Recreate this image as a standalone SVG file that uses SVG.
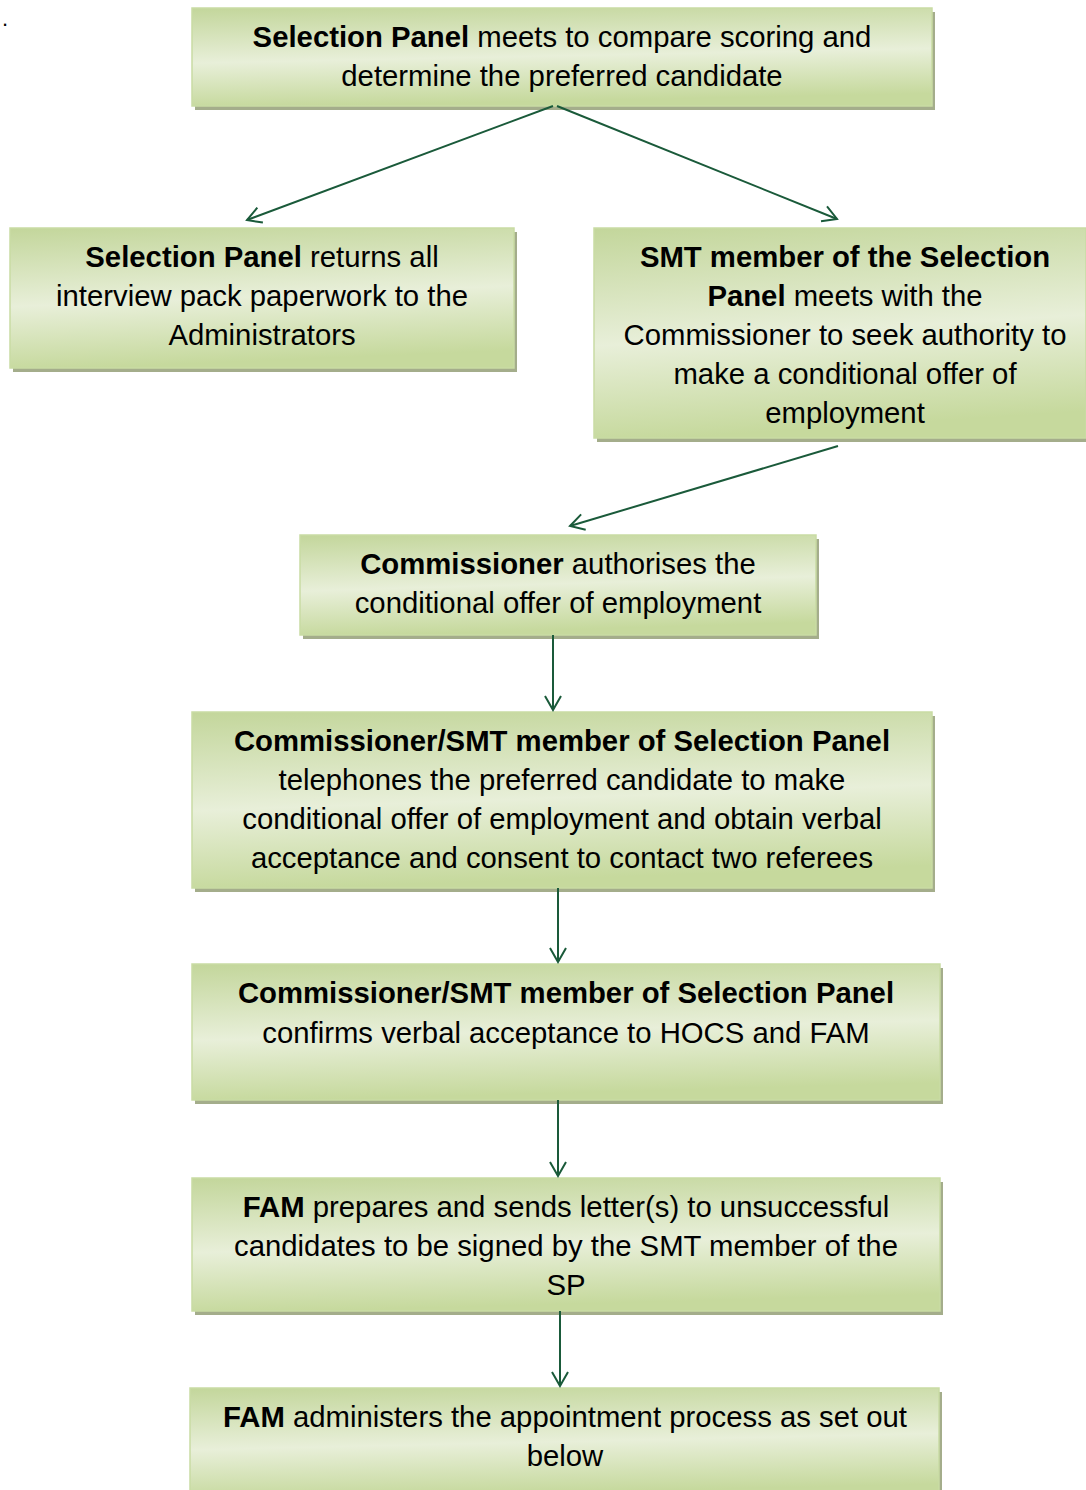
<svg xmlns="http://www.w3.org/2000/svg" width="1086" height="1490" viewBox="0 0 1086 1490">
<defs>
<linearGradient id="g" x1="0" y1="0" x2="0.15" y2="1">
<stop offset="0" stop-color="#c3d69b"/>
<stop offset="0.55" stop-color="#e8efd9"/>
<stop offset="1" stop-color="#c6d99d"/>
</linearGradient>
<marker id="ah" markerWidth="20" markerHeight="20" refX="18" refY="10" orient="auto" markerUnits="userSpaceOnUse">
<path d="M4,2 L18,10 L4,18" fill="none" stroke="#1a5a3a" stroke-width="2"/>
</marker>
<style>
.sh{fill:#a4ad8b}
.bx{fill:url(#g);stroke:#c9dba4;stroke-width:1.5}
.t{font-family:"Liberation Sans",Arial,sans-serif;font-size:29.3px;fill:#000;text-anchor:middle}
.b{font-weight:bold}
.c{stroke:#1a5a3a;stroke-width:2;fill:none;marker-end:url(#ah)}
</style>
</defs>
<rect width="1086" height="1490" fill="#fff"/>
<text x="2" y="26" class="t" style="text-anchor:start;font-size:22px">.</text>

<g id="n1">
<rect class="sh" x="195" y="12" width="740" height="98"/>
<rect class="bx" x="192" y="8" width="740" height="98"/>
<text class="t" x="562" y="47"><tspan class="b">Selection Panel</tspan> meets to compare scoring and</text>
<text class="t" x="562" y="86">determine the preferred candidate</text>
</g>

<g id="n2">
<rect class="sh" x="13" y="232" width="504" height="140"/>
<rect class="bx" x="10" y="228" width="504" height="140"/>
<text class="t" x="262" y="267"><tspan class="b">Selection Panel</tspan> returns all</text>
<text class="t" x="262" y="306">interview pack paperwork to the</text>
<text class="t" x="262" y="345">Administrators</text>
</g>

<g id="n3">
<rect class="sh" x="597" y="232" width="492" height="210"/>
<rect class="bx" x="594" y="228" width="492" height="210"/>
<text class="t" x="845" y="267"><tspan class="b">SMT member of the Selection</tspan></text>
<text class="t" x="845" y="306"><tspan class="b">Panel</tspan> meets with the</text>
<text class="t" x="845" y="345">Commissioner to seek authority to</text>
<text class="t" x="845" y="384">make a conditional offer of</text>
<text class="t" x="845" y="423">employment</text>
</g>

<g id="n4">
<rect class="sh" x="303" y="539" width="516" height="100"/>
<rect class="bx" x="300" y="535" width="516" height="100"/>
<text class="t" x="558" y="574"><tspan class="b">Commissioner</tspan> authorises the</text>
<text class="t" x="558" y="613">conditional offer of employment</text>
</g>

<g id="n5">
<rect class="sh" x="195" y="716" width="740" height="176"/>
<rect class="bx" x="192" y="712" width="740" height="176"/>
<text class="t" x="562" y="751"><tspan class="b">Commissioner/SMT member of Selection Panel</tspan></text>
<text class="t" x="562" y="790">telephones the preferred candidate to make</text>
<text class="t" x="562" y="829">conditional offer of employment and obtain verbal</text>
<text class="t" x="562" y="868">acceptance and consent to contact two referees</text>
</g>

<g id="n6">
<rect class="sh" x="195" y="968" width="748" height="136"/>
<rect class="bx" x="192" y="964" width="748" height="136"/>
<text class="t" x="566" y="1003"><tspan class="b">Commissioner/SMT member of Selection Panel</tspan></text>
<text class="t" x="566" y="1043">confirms verbal acceptance to HOCS and FAM</text>
</g>

<g id="n7">
<rect class="sh" x="195" y="1182" width="748" height="133"/>
<rect class="bx" x="192" y="1178" width="748" height="133"/>
<text class="t" x="566" y="1217"><tspan class="b">FAM</tspan> prepares and sends letter(s) to unsuccessful</text>
<text class="t" x="566" y="1256">candidates to be signed by the SMT member of the</text>
<text class="t" x="566" y="1295">SP</text>
</g>

<g id="n8">
<rect class="sh" x="193" y="1392" width="749" height="110"/>
<rect class="bx" x="190" y="1388" width="749" height="110"/>
<text class="t" x="565" y="1427"><tspan class="b">FAM</tspan> administers the appointment process as set out</text>
<text class="t" x="565" y="1466">below</text>
</g>

<g id="connectors">
<line class="c" x1="553" y1="106" x2="247" y2="220"/>
<line class="c" x1="557" y1="106" x2="837" y2="219"/>
<line class="c" x1="838" y1="446" x2="570" y2="526"/>
<line class="c" x1="553" y1="635" x2="553" y2="710"/>
<line class="c" x1="558" y1="888" x2="558" y2="962"/>
<line class="c" x1="558" y1="1100" x2="558" y2="1176"/>
<line class="c" x1="560" y1="1311" x2="560" y2="1386"/>
</g>
</svg>
